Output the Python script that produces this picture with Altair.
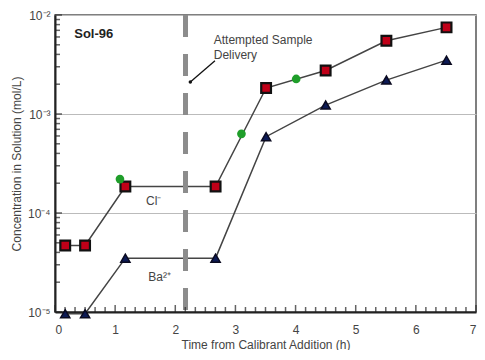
import altair as alt
import pandas as pd

# ---- data ----
cl_time = [0.17, 0.5, 1.17, 2.67, 3.51, 4.5, 5.51, 6.51]
cl_conc = [4.7e-5, 4.7e-5, 1.85e-4, 1.85e-4, 1.83e-3, 2.75e-3, 5.5e-3, 7.5e-3]
ba_time = [0.17, 0.5, 1.17, 2.67, 3.51, 4.5, 5.51, 6.51]
ba_conc = [9.6e-6, 9.6e-6, 3.5e-5, 3.5e-5, 5.9e-4, 1.23e-3, 2.2e-3, 3.5e-3]
green_time = [1.08, 3.1, 4.01]
green_conc = [2.2e-4, 6.3e-4, 2.26e-3]

delivery_time = [2.17]
arrow_t = [2.25, 2.66]
arrow_c = [2.1e-3, 3.45e-3]

y_major = [1e-5, 1e-4, 1e-3, 1e-2]
y_minor = [k * d for d in [1e-5, 1e-4, 1e-3] for k in range(2, 10)]
x_major = [0, 1, 2, 3, 4, 5, 6, 7]
x_minor = [i / 6 for i in range(0, 43) if i % 6 != 0]

W, H = 421, 297

cl = pd.DataFrame({"t": cl_time, "c": cl_conc})
ba = pd.DataFrame({"t": ba_time, "c": ba_conc})
gr = pd.DataFrame({"t": green_time, "c": green_conc})
arr = pd.DataFrame({"t": [arrow_t[0]], "c": [arrow_c[0]], "t2": [arrow_t[1]], "c2": [arrow_c[1]]})

label_expr = ("datum.value < 5e-5 ? '10⁻⁵' : datum.value < 5e-4 ? '10⁻⁴' : "
              "datum.value < 5e-3 ? '10⁻³' : '10⁻²'")

xs = alt.Scale(domain=[0, 7], nice=False, zero=False)
ys = alt.Scale(type="log", domain=[1e-5, 1e-2], nice=False)

x_axis = alt.Axis(values=x_major, ticks=False, grid=False, labelPadding=12, format="d",
                  title="Time from Calibrant Addition (h)", titlePadding=4,
                  domainColor="#222", domainWidth=2, labelFontSize=12,
                  titleFontSize=12, labelColor="#444", titleColor="#444",
                  titleFontWeight="normal", labelFont="Liberation Sans",
                  titleFont="Liberation Sans")
y_axis = alt.Axis(values=y_major, ticks=False, grid=True, gridColor="#bbbbbb",
                  gridWidth=1.2, labelExpr=label_expr, labelPadding=5,
                  title="Concentration in Solution (mol/L)", titlePadding=4,
                  domainColor="#222", domainWidth=2, labelFontSize=12,
                  titleFontSize=12, labelColor="#444", titleColor="#444",
                  titleFontWeight="normal", labelFont="Liberation Sans",
                  titleFont="Liberation Sans")

X = alt.X("t:Q", scale=xs, axis=x_axis)
Y = alt.Y("c:Q", scale=ys, axis=y_axis)
base_enc = dict(x=X, y=Y)

dash = alt.Chart(pd.DataFrame({"t": delivery_time})).mark_rule(
    color="#8c8c8c", strokeWidth=5, strokeDash=[22, 17]).encode(x=X)

cl_line = alt.Chart(cl).mark_line(color="#444", strokeWidth=1.5).encode(**base_enc)
ba_line = alt.Chart(ba).mark_line(color="#444", strokeWidth=1.5).encode(**base_enc)
cl_pts = alt.Chart(cl).mark_point(shape="square", filled=True, fill="#c00018",
                                  stroke="#111", strokeWidth=2.2, size=95, opacity=1).encode(**base_enc)
ba_pts = alt.Chart(ba).mark_point(shape="triangle-up", filled=True, fill="#0c1a55",
                                  stroke="#0a0a20", strokeWidth=1.5, size=85, opacity=1).encode(**base_enc)
gr_pts = alt.Chart(gr).mark_circle(color="#1f9e2a", size=75, opacity=1).encode(**base_enc)

arrow_rule = alt.Chart(arr).mark_rule(color="#111111", strokeWidth=1.3).encode(
    x=X, y=Y, x2="t2:Q", y2="c2:Q")
arrow_tip = alt.Chart(arr).mark_point(
    shape="circle", filled=True, color="#111", size=12, opacity=1).encode(**base_enc)

def txt(t, c, s, **kw):
    return alt.Chart(pd.DataFrame({"t": [t], "c": [c], "s": [s]})).mark_text(
        font="Liberation Sans", **kw).encode(x=X, y=Y, text="s:N")

texts = [
    txt(0.32, 6.4e-3, "Sol-96", fontSize=13, fontWeight="bold", color="#222", align="left"),
    txt(2.64, 5.6e-3, "Attempted Sample", fontSize=12, color="#444", align="left"),
    txt(2.64, 3.9e-3, "Delivery", fontSize=12, color="#444", align="left"),
    txt(1.64, 1.33e-4, "Cl⁻", fontSize=12, color="#444", align="center"),
    txt(1.74, 2.26e-5, "Ba²⁺", fontSize=12, color="#444", align="center"),
]

x_major_ticks = alt.Chart(pd.DataFrame({"t": x_major})).mark_tick(
    color="#222", thickness=1.5, size=7, yOffset=-3.5).encode(x=X, y=alt.value(H))
x_minor_ticks = alt.Chart(pd.DataFrame({"t": x_minor})).mark_tick(
    color="#222", thickness=1.5, size=5, yOffset=-2.5).encode(x=X, y=alt.value(H))
y_major_ticks = alt.Chart(pd.DataFrame({"c": y_major})).mark_tick(
    color="#222", thickness=1.5, size=7, xOffset=3.5).encode(y=Y, x=alt.value(0))
y_minor_ticks = alt.Chart(pd.DataFrame({"c": y_minor})).mark_tick(
    color="#222", thickness=1.5, size=5, xOffset=2.5).encode(y=Y, x=alt.value(0))

chart = alt.layer(
    cl_line, ba_line, dash, x_minor_ticks, x_major_ticks, y_minor_ticks, y_major_ticks,
    cl_pts, ba_pts, gr_pts, *texts, arrow_rule, arrow_tip
).properties(
    width=W, height=H,
    autosize=alt.AutoSizeParams(type="none"),
    padding={"left": 47, "top": 7, "right": 1, "bottom": 38},
).configure_view(stroke="#555", strokeWidth=1.5)

chart.save("out.html", embed_options={"renderer": "svg", "actions": False})
